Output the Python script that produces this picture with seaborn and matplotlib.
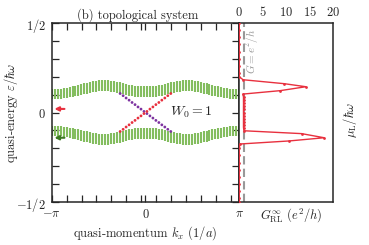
import numpy as np
import seaborn as sns
import matplotlib
matplotlib.use("Agg")
from matplotlib import pyplot as plt

# k grid of the bulk spectrum (64 points across the zone)
n_k = 64
# upper bulk band, edges read for k = -pi ... ~0 (band is symmetric in k)
band_top_half = [0.130, 0.131, 0.132, 0.134, 0.136, 0.139, 0.142, 0.146,
                 0.150, 0.154, 0.158, 0.163, 0.167, 0.171, 0.175, 0.178,
                 0.180, 0.181, 0.181, 0.180, 0.178, 0.175, 0.172, 0.168,
                 0.164, 0.160, 0.156, 0.153, 0.150, 0.148, 0.147, 0.146]
band_bot_half = [0.074, 0.075, 0.076, 0.077, 0.079, 0.081, 0.084, 0.087,
                 0.090, 0.094, 0.098, 0.102, 0.106, 0.110, 0.113, 0.116,
                 0.118, 0.119, 0.119, 0.118, 0.116, 0.113, 0.110, 0.106,
                 0.102, 0.098, 0.094, 0.091, 0.088, 0.086, 0.085, 0.084]

# edge states (grid points 23..40)
edge_idx = list(range(23, 41))
edge_purple = [0.106, 0.094, 0.081, 0.069, 0.056, 0.044, 0.031, 0.019, 0.006,
               -0.006, -0.019, -0.031, -0.044, -0.056, -0.069, -0.081, -0.094, -0.106]
edge_red = [-0.106, -0.094, -0.081, -0.069, -0.056, -0.044, -0.031, -0.019, -0.006,
            0.006, 0.019, 0.031, 0.044, 0.056, 0.069, 0.081, 0.094, 0.106]

# conductance vs lead chemical potential
mu_L = [0.50, 0.46, 0.42, 0.38, 0.34, 0.30, 0.26, 0.22, 0.20,
        0.183, 0.161, 0.144, 0.122, 0.103,
        0.085, 0.068, 0.051, 0.034, 0.017, 0.0, -0.017, -0.034, -0.051, -0.068, -0.085,
        -0.102, -0.118, -0.141, -0.159, -0.176,
        -0.20, -0.24, -0.28, -0.32, -0.36, -0.40, -0.44, -0.48, -0.50]
G_RL = [0, 0, 0, 0, 0, 0, 0, 0, 0,
        0.8, 9.6, 14.2, 8.7, 0.8,
        0.9, 0.9, 0.9, 0.9, 0.9, 0.9, 0.9, 0.9, 0.9, 0.9, 0.9,
        1.0, 13.3, 18.1, 10.6, 0.1,
        0, 0, 0, 0, 0, 0, 0, 0, 0]

# arrows marking lead potentials
arrow_red_eps = 0.02
arrow_green_eps = -0.141

sns.set_style("ticks")
plt.rcParams["font.family"] = ["cmr10", "DejaVu Serif"]
plt.rcParams["mathtext.fontset"] = "cm"
plt.rcParams["axes.formatter.use_mathtext"] = True
plt.rcParams["axes.linewidth"] = 1.1

GREEN = "#84bd5f"
PURPLE = "#7d33a0"
RED = "#e8303e"

fig = plt.figure(figsize=(3.69, 2.45), dpi=100)
ax = fig.add_axes([0.140, 0.1755, 0.5084, 0.7306])
ax2 = fig.add_axes([0.6485, 0.1755, 0.254, 0.7306])

k = np.linspace(-np.pi, np.pi, n_k)
top = np.array(band_top_half + band_top_half[::-1])
bot = np.array(band_bot_half + band_bot_half[::-1])
ax.vlines(k, bot, top, color=GREEN, lw=1.5)
ax.vlines(k, -top, -bot, color=GREEN, lw=1.5)

ke = k[edge_idx]
sns.scatterplot(x=ke, y=edge_purple, color=PURPLE, s=4, edgecolor="none", ax=ax, zorder=3)
sns.scatterplot(x=ke, y=edge_red, color=RED, s=4, edgecolor="none", ax=ax, zorder=3)

ax.annotate("", xy=(-np.pi, arrow_red_eps), xytext=(-2.62, arrow_red_eps),
            arrowprops=dict(arrowstyle="-|>", color=RED, lw=1.5, mutation_scale=6),
            annotation_clip=False)
ax.annotate("", xy=(-np.pi, arrow_green_eps), xytext=(-2.62, arrow_green_eps),
            arrowprops=dict(arrowstyle="-|>", color="#3d7a22", lw=1.5, mutation_scale=6),
            annotation_clip=False)

ax.text(1.52, 0.0, r"$W_0 = 1$", fontsize=10, ha="center", va="center")

ax.set_xlim(-np.pi, np.pi)
ax.set_ylim(-0.5, 0.5)
ax.set_xticks([-np.pi, 0, np.pi])
ax.set_xticklabels([r"$-\pi$", r"$0$", r"$\pi$"])
ax.set_xticks([-np.pi + 0.5 * i for i in range(1, 13)], minor=True)
ax.set_yticks([-0.5, 0, 0.5])
ax.set_yticklabels([r"$-1/2$", r"$0$", r"$1/2$"])
ax.set_yticks([-0.4, -0.3, -0.2, -0.1, 0.1, 0.2, 0.3, 0.4], minor=True)
ax.tick_params(which="both", direction="in", top=True, right=True,
               length=5, width=0.9, labelsize=9, pad=4)
ax.set_xlabel(r"quasi-momentum $k_x$ $(1/a)$", fontsize=9)
ax.xaxis.set_label_coords(0.5, -0.125)
ax.xaxis.label.set_va("top")
ax.set_ylabel(r"quasi-energy $\varepsilon/\hbar\omega$", fontsize=9)
ax.yaxis.set_label_coords(-0.17, 0.5)
ax.set_title("(b) topological system", fontsize=9, x=0.46, pad=3)

ax2.axvline(1.0, color="#999999", lw=1.5, ls=(0, (4, 2)), zorder=1)
sns.lineplot(x=G_RL, y=mu_L, sort=False, estimator=None, color=RED, lw=1.0,
             marker="o", markersize=2, markeredgewidth=0, ax=ax2, zorder=3)
ax2.text(2.7, 0.34, r"$G = e^2/h$", rotation=90, color="#999999", fontsize=8,
         ha="center", va="center")
ax2.set_xlim(0, 20)
ax2.set_ylim(-0.5, 0.5)
ax2.xaxis.tick_top()
ax2.set_xticks([0, 5, 10, 15, 20])
ax2.set_yticks([])
ax2.tick_params(axis="x", length=0, labelsize=9, pad=3)
ax2.set_xlabel(r"$G^{\infty}_{\mathrm{RL}}$ $(e^2/h)$", fontsize=9)
ax2.xaxis.set_label_position("bottom")
ax2.xaxis.set_label_coords(0.55, -0.025)
ax2.xaxis.label.set_va("top")
ax2.set_ylabel(r"$\mu_{\mathrm{L}}/\hbar\omega$", fontsize=9, rotation=90)
ax2.yaxis.set_label_position("right")
ax2.yaxis.set_label_coords(1.08, 0.46)

fig.savefig("out.png", dpi=100)
